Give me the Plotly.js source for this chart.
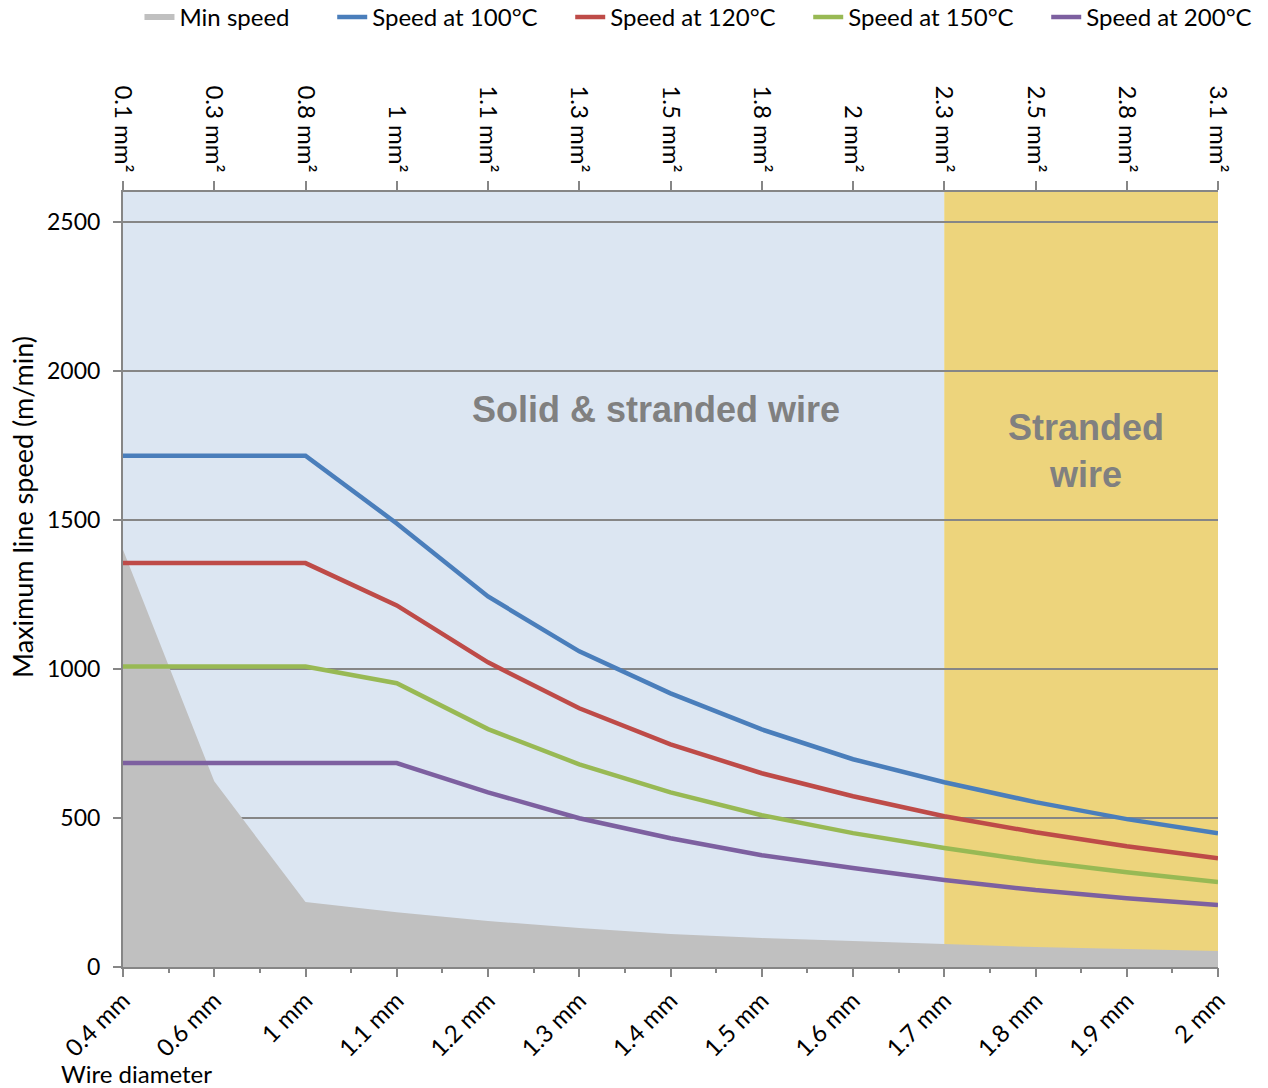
<!DOCTYPE html>
<html>
<head>
<meta charset="utf-8">
<script src="https://cdn.plot.ly/plotly-3.0.1.min.js"></script>
<style>html,body{margin:0;padding:0;background:#fff;}#chart{width:1268px;height:1088px;}</style>
</head>
<body>
<div id="chart"></div>
<script>
const diameters = ['0.4 mm','0.6 mm','1 mm','1.1 mm','1.2 mm','1.3 mm','1.4 mm','1.5 mm','1.6 mm','1.7 mm','1.8 mm','1.9 mm','2 mm'];
const crossSections = ['0.1 mm²','0.3 mm²','0.8 mm²','1 mm²','1.1 mm²','1.3 mm²','1.5 mm²','1.8 mm²','2 mm²','2.3 mm²','2.5 mm²','2.8 mm²','3.1 mm²'];
const minSpeed  = [1400, 623, 218, 184, 154, 131, 111, 97, 87, 77, 67, 60, 54];
const speed100  = [1715, 1715, 1715, 1488, 1243, 1059, 918, 797, 697, 620, 553, 496, 449];
const speed120  = [1355, 1355, 1355, 1213, 1022, 868, 747, 650, 573, 506, 452, 405, 365];
const speed150  = [1008, 1008, 1008, 952, 798, 680, 586, 509, 449, 399, 355, 318, 285];
const speed200  = [684, 684, 684, 684, 586, 499, 432, 375, 332, 292, 258, 231, 208];
const seriesNames = ['Min speed','Speed at 100°C','Speed at 120°C','Speed at 150°C','Speed at 200°C'];
const regionSolid = {label: 'Solid & stranded wire', from: '0.4 mm', to: '1.7 mm'};
const regionStranded = {label: 'Stranded<br>wire', from: '1.7 mm', to: '2 mm'};

const FONT = 'Lato, "Open Sans", sans-serif';
const AX = '#868686';

const lineTrace = (y, name, color) => ({
  x: diameters, y: y, name: name, type: 'scatter', mode: 'lines', legend: 'legend2',
  line: {color: color, width: 4.5}, hoverinfo: 'skip'
});

const traces = [
  {x: diameters, y: minSpeed, name: seriesNames[0], type: 'scatter', mode: 'none', legend: 'legend',
   fill: 'tozeroy', fillcolor: '#C0C0C0', hoverinfo: 'skip'},
  lineTrace(speed100, seriesNames[1], '#4A7EBB'),
  lineTrace(speed120, seriesNames[2], '#BE4B48'),
  lineTrace(speed150, seriesNames[3], '#98B954'),
  lineTrace(speed200, seriesNames[4], '#7D60A0'),
  // invisible carriers so the top (cross-section) axis and the minor-tick axis are drawn
  {x: crossSections, y: minSpeed, xaxis: 'x2', type: 'scatter', mode: 'lines',
   line: {width: 0, color: 'rgba(0,0,0,0)'}, showlegend: false, hoverinfo: 'skip'},
  {x: diameters.map((_, i) => i), y: minSpeed, xaxis: 'x3', type: 'scatter', mode: 'lines',
   line: {width: 0, color: 'rgba(0,0,0,0)'}, showlegend: false, hoverinfo: 'skip'}
];

const idx = c => diameters.indexOf(c);

const legendBase = {orientation: 'h', xref: 'container', yref: 'container', y: 0.984,
  xanchor: 'left', yanchor: 'middle', font: {family: FONT, size: 24, color: '#000'},
  itemwidth: 30, tracegroupgap: 0, bgcolor: 'rgba(0,0,0,0)'};

const layout = {
  width: 1268, height: 1088,
  margin: {l: 123, r: 50, t: 192, b: 121},
  paper_bgcolor: '#fff', plot_bgcolor: '#fff',
  font: {family: FONT, size: 22, color: '#000'},
  showlegend: true,
  legend: Object.assign({}, legendBase, {x: 0.110}),
  legend2: Object.assign({}, legendBase, {x: 0.262, entrywidth: 193, entrywidthmode: 'pixels'}),
  xaxis: {type: 'category', categoryarray: diameters, categoryorder: 'array', range: [0, 12],
          showline: true, linecolor: AX, linewidth: 2, ticks: 'outside', ticklen: 8, tickcolor: AX, tickwidth: 2,
          tickangle: -45, showgrid: false, zeroline: false, automargin: false,
          tickfont: {family: FONT, size: 24, color: '#000'}},
  xaxis2: {overlaying: 'x', side: 'top', type: 'category', categoryarray: crossSections, categoryorder: 'array',
           range: [0, 12],
           showline: true, linecolor: AX, linewidth: 2, ticks: 'outside', ticklen: 9, tickcolor: AX, tickwidth: 2,
           tickangle: 90, showgrid: false, zeroline: false, automargin: false,
           tickfont: {family: FONT, size: 24, color: '#000'}},
  xaxis3: {overlaying: 'x', side: 'bottom', type: 'linear', range: [0, 12], dtick: 0.5, tick0: 0,
           showline: false, ticks: 'outside', ticklen: 5, tickcolor: AX, tickwidth: 2,
           showticklabels: false, showgrid: false, zeroline: false, automargin: false},
  yaxis: {range: [0, 2600], tickvals: [0, 500, 1000, 1500, 2000, 2500],
          showline: true, linecolor: AX, linewidth: 2, ticks: 'outside', ticklen: 8, tickcolor: AX, tickwidth: 2,
          showgrid: true, gridcolor: AX, gridwidth: 1.5, zeroline: false, automargin: false,
          ticklabelstandoff: 8,
          tickfont: {family: FONT, size: 23, color: '#000'}},
  shapes: [
    {type: 'rect', xref: 'x', yref: 'paper', x0: idx(regionSolid.from), x1: idx(regionSolid.to), y0: 0, y1: 1,
     fillcolor: '#DCE6F2', line: {width: 0}, layer: 'below'},
    {type: 'rect', xref: 'x', yref: 'paper', x0: idx(regionStranded.from), x1: idx(regionStranded.to), y0: 0, y1: 1,
     fillcolor: '#E3BD36', opacity: 0.65, line: {width: 0}, layer: 'between'}
  ],
  annotations: [
    {text: regionSolid.label, xref: 'x', yref: 'y', x: 5.84, y: 1870, showarrow: false,
     font: {family: '"Liberation Sans", Arial, sans-serif', size: 36, color: '#808080', weight: 'bold'}},
    {text: regionStranded.label, xref: 'x', yref: 'y', x: 10.55, y: 1732, showarrow: false,
     font: {family: '"Liberation Sans", Arial, sans-serif', size: 36, color: '#808080', weight: 'bold'}},
    {text: 'Maximum line speed (m/min)', xref: 'paper', yref: 'paper', x: -0.092, y: 0.594,
     textangle: -90, showarrow: false, xanchor: 'center', yanchor: 'middle',
     font: {family: FONT, size: 27, color: '#000'}},
    {text: 'Wire diameter', xref: 'paper', yref: 'paper', x: -0.058, y: -0.137,
     showarrow: false, xanchor: 'left', yanchor: 'middle',
     font: {family: FONT, size: 24, color: '#000'}}
  ]
};

Plotly.newPlot('chart', traces, layout, {staticPlot: true, displayModeBar: false});
</script>
</body>
</html>
